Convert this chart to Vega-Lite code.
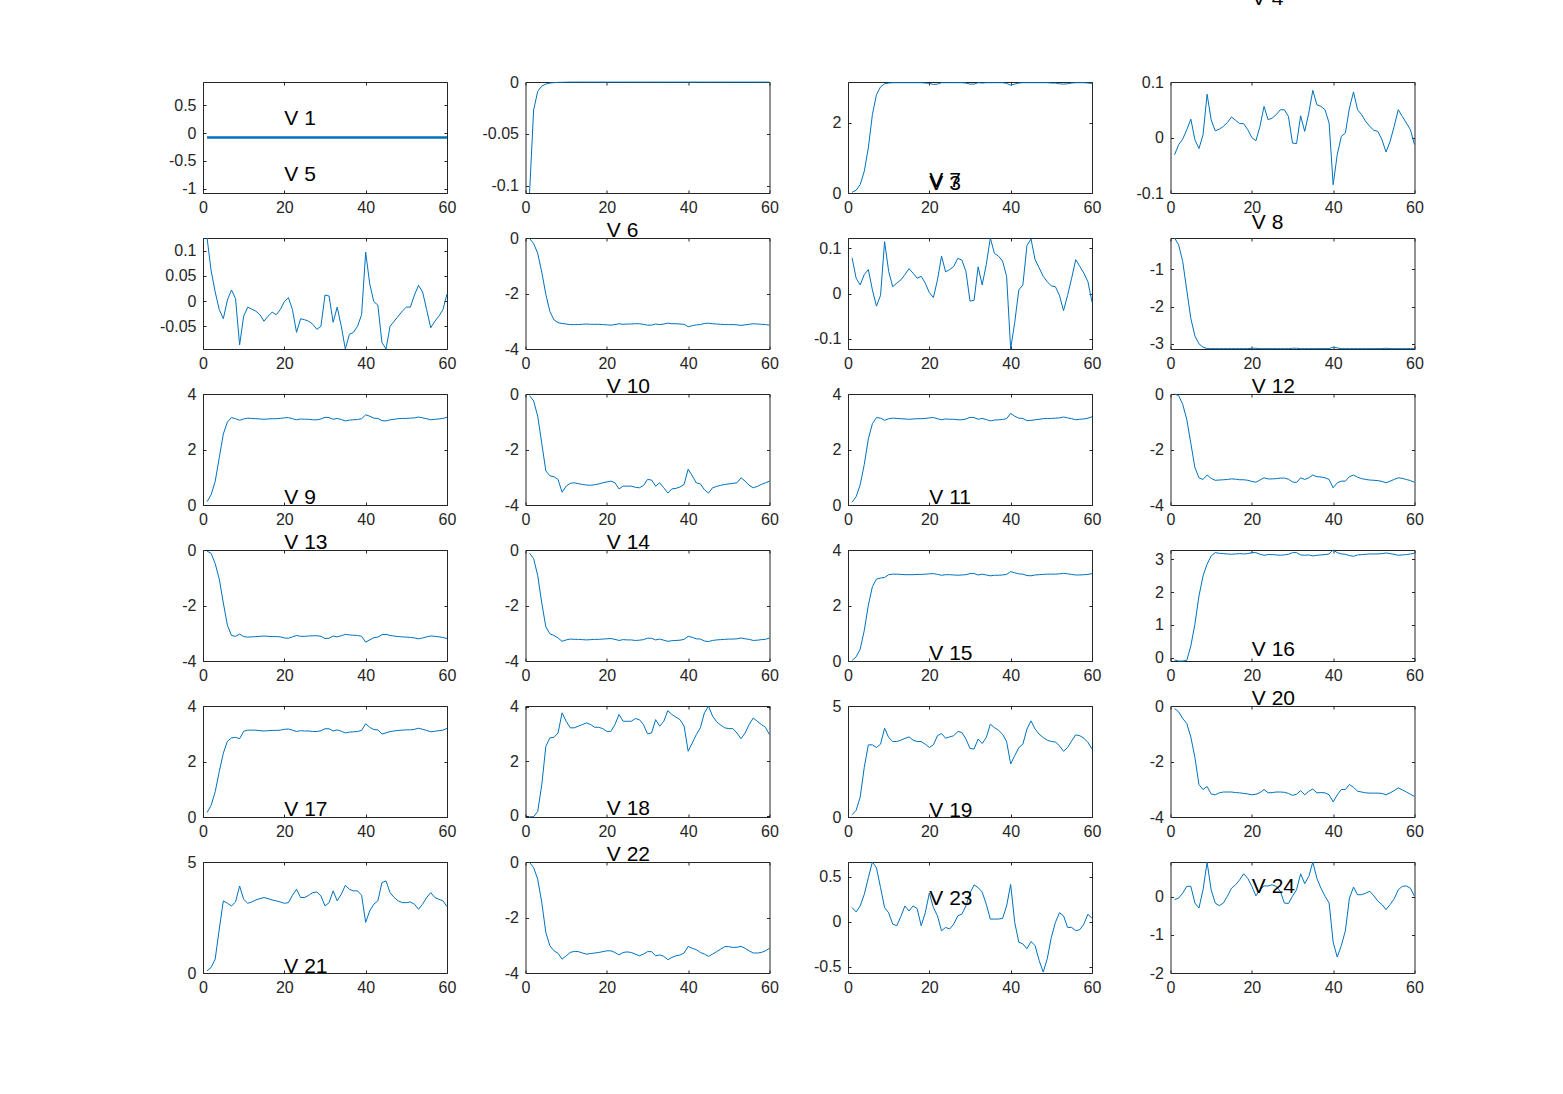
{
"$schema": "https://vega.github.io/schema/vega-lite/v6.json",
"background": "white",
"padding": {"left": 159, "top": -13, "right": 5, "bottom": 5},
"columns": 4,
"spacing": {"row": 45, "column": 78.5},
"bounds": "flush",
"config": {
 "view": {"stroke": "#262626", "strokeWidth": 1},
 "axis": {"grid": false, "domain": false, "tickSize": -3, "tickColor": "#262626", "tickWidth": 1, "labelFont": "Liberation Sans", "labelFontSize": 16, "labelColor": "#262626", "labelFlush": false, "labelOverlap": false, "labelExpr": "'' + datum.value"},
 "axisX": {"labelPadding": 9},
 "axisY": {"labelPadding": 10},
 "line": {"color": "#0072BD", "strokeWidth": 1},
 "text": {"align": "left", "baseline": "middle", "font": "Liberation Sans", "fontSize": 21, "color": "black"}
},
"datasets": {
"d1": [{"x":1,"y":-0.08},{"x":2,"y":-0.08},{"x":3,"y":-0.08},{"x":4,"y":-0.08},{"x":5,"y":-0.08},{"x":6,"y":-0.08},{"x":7,"y":-0.08},{"x":8,"y":-0.08},{"x":9,"y":-0.08},{"x":10,"y":-0.08},{"x":11,"y":-0.08},{"x":12,"y":-0.08},{"x":13,"y":-0.08},{"x":14,"y":-0.08},{"x":15,"y":-0.08},{"x":16,"y":-0.08},{"x":17,"y":-0.08},{"x":18,"y":-0.08},{"x":19,"y":-0.08},{"x":20,"y":-0.08},{"x":21,"y":-0.08},{"x":22,"y":-0.08},{"x":23,"y":-0.08},{"x":24,"y":-0.08},{"x":25,"y":-0.08},{"x":26,"y":-0.08},{"x":27,"y":-0.08},{"x":28,"y":-0.08},{"x":29,"y":-0.08},{"x":30,"y":-0.08},{"x":31,"y":-0.08},{"x":32,"y":-0.08},{"x":33,"y":-0.08},{"x":34,"y":-0.08},{"x":35,"y":-0.08},{"x":36,"y":-0.08},{"x":37,"y":-0.08},{"x":38,"y":-0.08},{"x":39,"y":-0.08},{"x":40,"y":-0.08},{"x":41,"y":-0.08},{"x":42,"y":-0.08},{"x":43,"y":-0.08},{"x":44,"y":-0.08},{"x":45,"y":-0.08},{"x":46,"y":-0.08},{"x":47,"y":-0.08},{"x":48,"y":-0.08},{"x":49,"y":-0.08},{"x":50,"y":-0.08},{"x":51,"y":-0.08},{"x":52,"y":-0.08},{"x":53,"y":-0.08},{"x":54,"y":-0.08},{"x":55,"y":-0.08},{"x":56,"y":-0.08},{"x":57,"y":-0.08},{"x":58,"y":-0.08},{"x":59,"y":-0.08},{"x":60,"y":-0.08}],
"d2": [{"x":1,"y":-0.107},{"x":2,"y":-0.027},{"x":3,"y":-0.009},{"x":4,"y":-0.004},{"x":5,"y":-0.002},{"x":6,"y":-0.001},{"x":7,"y":-0.0006},{"x":8,"y":-0.0004},{"x":9,"y":-0.0003},{"x":10,"y":-0.0002},{"x":11,"y":-0.0001},{"x":12,"y":-0.0001},{"x":13,"y":-0.0001},{"x":14,"y":-0.0001},{"x":15,"y":-0.0001},{"x":16,"y":-0.0001},{"x":17,"y":-0.0001},{"x":18,"y":-0.0001},{"x":19,"y":-0.0001},{"x":20,"y":-0.0001},{"x":21,"y":-0.0001},{"x":22,"y":-0.0001},{"x":23,"y":-0.0001},{"x":24,"y":-0.0001},{"x":25,"y":-0.0001},{"x":26,"y":-0.0001},{"x":27,"y":-0.0001},{"x":28,"y":-0.0001},{"x":29,"y":-0.0001},{"x":30,"y":-0.0001},{"x":31,"y":-0.0001},{"x":32,"y":-0.0001},{"x":33,"y":-0.0001},{"x":34,"y":-0.0001},{"x":35,"y":-0.0001},{"x":36,"y":-0.0001},{"x":37,"y":-0.0001},{"x":38,"y":-0.0001},{"x":39,"y":-0.0001},{"x":40,"y":-0.0001},{"x":41,"y":-0.0001},{"x":42,"y":-0.0001},{"x":43,"y":-0.0001},{"x":44,"y":-0.0001},{"x":45,"y":-0.0001},{"x":46,"y":-0.0001},{"x":47,"y":-0.0001},{"x":48,"y":-0.0001},{"x":49,"y":-0.0001},{"x":50,"y":-0.0001},{"x":51,"y":-0.0001},{"x":52,"y":-0.0001},{"x":53,"y":-0.0001},{"x":54,"y":-0.0001},{"x":55,"y":-0.0001},{"x":56,"y":-0.0001},{"x":57,"y":-0.0001},{"x":58,"y":-0.0001},{"x":59,"y":-0.0001},{"x":60,"y":-0.0001}],
"d3": [{"x":1,"y":0.02},{"x":2,"y":0.08},{"x":3,"y":0.24},{"x":4,"y":0.62},{"x":5,"y":1.29},{"x":6,"y":2.24},{"x":7,"y":2.81},{"x":8,"y":3.03},{"x":9,"y":3.12},{"x":10,"y":3.14},{"x":11,"y":3.15},{"x":12,"y":3.15},{"x":13,"y":3.15},{"x":14,"y":3.15},{"x":15,"y":3.15},{"x":16,"y":3.15},{"x":17,"y":3.15},{"x":18,"y":3.15},{"x":19,"y":3.14},{"x":20,"y":3.13},{"x":21,"y":3.10},{"x":22,"y":3.11},{"x":23,"y":3.15},{"x":24,"y":3.15},{"x":25,"y":3.15},{"x":26,"y":3.15},{"x":27,"y":3.15},{"x":28,"y":3.15},{"x":29,"y":3.14},{"x":30,"y":3.11},{"x":31,"y":3.11},{"x":32,"y":3.15},{"x":33,"y":3.14},{"x":34,"y":3.15},{"x":35,"y":3.15},{"x":36,"y":3.15},{"x":37,"y":3.15},{"x":38,"y":3.15},{"x":39,"y":3.13},{"x":40,"y":3.08},{"x":41,"y":3.11},{"x":42,"y":3.14},{"x":43,"y":3.15},{"x":44,"y":3.15},{"x":45,"y":3.15},{"x":46,"y":3.15},{"x":47,"y":3.15},{"x":48,"y":3.15},{"x":49,"y":3.15},{"x":50,"y":3.14},{"x":51,"y":3.14},{"x":52,"y":3.12},{"x":53,"y":3.11},{"x":54,"y":3.12},{"x":55,"y":3.14},{"x":56,"y":3.15},{"x":57,"y":3.15},{"x":58,"y":3.15},{"x":59,"y":3.14},{"x":60,"y":3.13}],
"d4": [{"x":1,"y":-0.031},{"x":2,"y":-0.013},{"x":3,"y":-0.003},{"x":4,"y":0.014},{"x":5,"y":0.033},{"x":6,"y":-0.004},{"x":7,"y":-0.02},{"x":8,"y":0.005},{"x":9,"y":0.078},{"x":10,"y":0.032},{"x":11,"y":0.012},{"x":12,"y":0.015},{"x":13,"y":0.02},{"x":14,"y":0.027},{"x":15,"y":0.037},{"x":16,"y":0.031},{"x":17,"y":0.025},{"x":18,"y":0.025},{"x":19,"y":0.014},{"x":20,"y":0.0},{"x":21,"y":-0.006},{"x":22,"y":0.02},{"x":23,"y":0.056},{"x":24,"y":0.032},{"x":25,"y":0.035},{"x":26,"y":0.041},{"x":27,"y":0.05},{"x":28,"y":0.05},{"x":29,"y":0.038},{"x":30,"y":-0.01},{"x":31,"y":-0.011},{"x":32,"y":0.039},{"x":33,"y":0.011},{"x":34,"y":0.044},{"x":35,"y":0.085},{"x":36,"y":0.059},{"x":37,"y":0.056},{"x":38,"y":0.05},{"x":39,"y":0.026},{"x":40,"y":-0.085},{"x":41,"y":-0.031},{"x":42,"y":0.002},{"x":43,"y":0.008},{"x":44,"y":0.053},{"x":45,"y":0.082},{"x":46,"y":0.05},{"x":47,"y":0.041},{"x":48,"y":0.029},{"x":49,"y":0.02},{"x":50,"y":0.013},{"x":51,"y":0.011},{"x":52,"y":-0.004},{"x":53,"y":-0.026},{"x":54,"y":-0.007},{"x":55,"y":0.02},{"x":56,"y":0.05},{"x":57,"y":0.038},{"x":58,"y":0.026},{"x":59,"y":0.014},{"x":60,"y":-0.013}],
"d5": [{"x":1,"y":0.125},{"x":2,"y":0.06},{"x":3,"y":0.018},{"x":4,"y":-0.017},{"x":5,"y":-0.035},{"x":6,"y":0.002},{"x":7,"y":0.022},{"x":8,"y":0.005},{"x":9,"y":-0.087},{"x":10,"y":-0.03},{"x":11,"y":-0.012},{"x":12,"y":-0.016},{"x":13,"y":-0.02},{"x":14,"y":-0.027},{"x":15,"y":-0.04},{"x":16,"y":-0.03},{"x":17,"y":-0.022},{"x":18,"y":-0.027},{"x":19,"y":-0.017},{"x":20,"y":-0.001},{"x":21,"y":0.007},{"x":22,"y":-0.017},{"x":23,"y":-0.062},{"x":24,"y":-0.035},{"x":25,"y":-0.037},{"x":26,"y":-0.04},{"x":27,"y":-0.046},{"x":28,"y":-0.056},{"x":29,"y":-0.05},{"x":30,"y":0.012},{"x":31,"y":0.01},{"x":32,"y":-0.042},{"x":33,"y":-0.012},{"x":34,"y":-0.05},{"x":35,"y":-0.095},{"x":36,"y":-0.066},{"x":37,"y":-0.062},{"x":38,"y":-0.05},{"x":39,"y":-0.027},{"x":40,"y":0.097},{"x":41,"y":0.034},{"x":42,"y":-0.001},{"x":43,"y":-0.008},{"x":44,"y":-0.082},{"x":45,"y":-0.095},{"x":46,"y":-0.05},{"x":47,"y":-0.04},{"x":48,"y":-0.03},{"x":49,"y":-0.02},{"x":50,"y":-0.012},{"x":51,"y":-0.012},{"x":52,"y":0.012},{"x":53,"y":0.031},{"x":54,"y":0.018},{"x":55,"y":-0.017},{"x":56,"y":-0.053},{"x":57,"y":-0.04},{"x":58,"y":-0.03},{"x":59,"y":-0.017},{"x":60,"y":0.014}],
"d6": [{"x":1,"y":-0.02},{"x":2,"y":-0.2},{"x":3,"y":-0.55},{"x":4,"y":-1.23},{"x":5,"y":-2.03},{"x":6,"y":-2.65},{"x":7,"y":-2.95},{"x":8,"y":-3.05},{"x":9,"y":-3.08},{"x":10,"y":-3.1},{"x":11,"y":-3.12},{"x":12,"y":-3.12},{"x":13,"y":-3.12},{"x":14,"y":-3.11},{"x":15,"y":-3.10},{"x":16,"y":-3.11},{"x":17,"y":-3.11},{"x":18,"y":-3.11},{"x":19,"y":-3.12},{"x":20,"y":-3.13},{"x":21,"y":-3.14},{"x":22,"y":-3.12},{"x":23,"y":-3.09},{"x":24,"y":-3.11},{"x":25,"y":-3.10},{"x":26,"y":-3.10},{"x":27,"y":-3.09},{"x":28,"y":-3.09},{"x":29,"y":-3.11},{"x":30,"y":-3.14},{"x":31,"y":-3.14},{"x":32,"y":-3.10},{"x":33,"y":-3.12},{"x":34,"y":-3.10},{"x":35,"y":-3.07},{"x":36,"y":-3.09},{"x":37,"y":-3.09},{"x":38,"y":-3.10},{"x":39,"y":-3.11},{"x":40,"y":-3.2},{"x":41,"y":-3.16},{"x":42,"y":-3.13},{"x":43,"y":-3.12},{"x":44,"y":-3.08},{"x":45,"y":-3.07},{"x":46,"y":-3.09},{"x":47,"y":-3.10},{"x":48,"y":-3.11},{"x":49,"y":-3.12},{"x":50,"y":-3.12},{"x":51,"y":-3.12},{"x":52,"y":-3.13},{"x":53,"y":-3.15},{"x":54,"y":-3.13},{"x":55,"y":-3.11},{"x":56,"y":-3.09},{"x":57,"y":-3.10},{"x":58,"y":-3.11},{"x":59,"y":-3.12},{"x":60,"y":-3.14}],
"d7": [{"x":1,"y":0.079},{"x":2,"y":0.034},{"x":3,"y":0.019},{"x":4,"y":0.042},{"x":5,"y":0.053},{"x":6,"y":0.008},{"x":7,"y":-0.028},{"x":8,"y":-0.004},{"x":9,"y":0.115},{"x":10,"y":0.049},{"x":11,"y":0.015},{"x":12,"y":0.023},{"x":13,"y":0.03},{"x":14,"y":0.042},{"x":15,"y":0.055},{"x":16,"y":0.045},{"x":17,"y":0.034},{"x":18,"y":0.038},{"x":19,"y":0.023},{"x":20,"y":0.002},{"x":21,"y":-0.009},{"x":22,"y":0.03},{"x":23,"y":0.083},{"x":24,"y":0.048},{"x":25,"y":0.053},{"x":26,"y":0.06},{"x":27,"y":0.078},{"x":28,"y":0.074},{"x":29,"y":0.049},{"x":30,"y":-0.017},{"x":31,"y":-0.015},{"x":32,"y":0.059},{"x":33,"y":0.019},{"x":34,"y":0.064},{"x":35,"y":0.123},{"x":36,"y":0.089},{"x":37,"y":0.083},{"x":38,"y":0.072},{"x":39,"y":0.038},{"x":40,"y":-0.123},{"x":41,"y":-0.064},{"x":42,"y":0.008},{"x":43,"y":0.019},{"x":44,"y":0.106},{"x":45,"y":0.121},{"x":46,"y":0.075},{"x":47,"y":0.057},{"x":48,"y":0.038},{"x":49,"y":0.026},{"x":50,"y":0.017},{"x":51,"y":0.015},{"x":52,"y":-0.004},{"x":53,"y":-0.038},{"x":54,"y":-0.004},{"x":55,"y":0.034},{"x":56,"y":0.075},{"x":57,"y":0.06},{"x":58,"y":0.045},{"x":59,"y":0.026},{"x":60,"y":-0.019}],
"d8": [{"x":1,"y":-0.16},{"x":2,"y":-0.34},{"x":3,"y":-0.79},{"x":4,"y":-1.56},{"x":5,"y":-2.32},{"x":6,"y":-2.79},{"x":7,"y":-3.0},{"x":8,"y":-3.09},{"x":9,"y":-3.13},{"x":10,"y":-3.13},{"x":11,"y":-3.13},{"x":12,"y":-3.13},{"x":13,"y":-3.13},{"x":14,"y":-3.13},{"x":15,"y":-3.13},{"x":16,"y":-3.13},{"x":17,"y":-3.13},{"x":18,"y":-3.13},{"x":19,"y":-3.13},{"x":20,"y":-3.12},{"x":21,"y":-3.12},{"x":22,"y":-3.13},{"x":23,"y":-3.13},{"x":24,"y":-3.13},{"x":25,"y":-3.13},{"x":26,"y":-3.13},{"x":27,"y":-3.13},{"x":28,"y":-3.13},{"x":29,"y":-3.13},{"x":30,"y":-3.12},{"x":31,"y":-3.12},{"x":32,"y":-3.13},{"x":33,"y":-3.13},{"x":34,"y":-3.13},{"x":35,"y":-3.13},{"x":36,"y":-3.13},{"x":37,"y":-3.13},{"x":38,"y":-3.13},{"x":39,"y":-3.13},{"x":40,"y":-3.09},{"x":41,"y":-3.11},{"x":42,"y":-3.13},{"x":43,"y":-3.13},{"x":44,"y":-3.13},{"x":45,"y":-3.13},{"x":46,"y":-3.13},{"x":47,"y":-3.13},{"x":48,"y":-3.13},{"x":49,"y":-3.13},{"x":50,"y":-3.13},{"x":51,"y":-3.13},{"x":52,"y":-3.13},{"x":53,"y":-3.12},{"x":54,"y":-3.13},{"x":55,"y":-3.13},{"x":56,"y":-3.13},{"x":57,"y":-3.13},{"x":58,"y":-3.13},{"x":59,"y":-3.13},{"x":60,"y":-3.13}],
"d9": [{"x":1,"y":0.12},{"x":2,"y":0.37},{"x":3,"y":0.85},{"x":4,"y":1.71},{"x":5,"y":2.56},{"x":6,"y":2.99},{"x":7,"y":3.15},{"x":8,"y":3.11},{"x":9,"y":3.05},{"x":10,"y":3.10},{"x":11,"y":3.13},{"x":12,"y":3.12},{"x":13,"y":3.11},{"x":14,"y":3.10},{"x":15,"y":3.09},{"x":16,"y":3.10},{"x":17,"y":3.11},{"x":18,"y":3.11},{"x":19,"y":3.12},{"x":20,"y":3.14},{"x":21,"y":3.15},{"x":22,"y":3.11},{"x":23,"y":3.07},{"x":24,"y":3.10},{"x":25,"y":3.09},{"x":26,"y":3.09},{"x":27,"y":3.07},{"x":28,"y":3.07},{"x":29,"y":3.10},{"x":30,"y":3.16},{"x":31,"y":3.15},{"x":32,"y":3.09},{"x":33,"y":3.12},{"x":34,"y":3.08},{"x":35,"y":3.03},{"x":36,"y":3.06},{"x":37,"y":3.07},{"x":38,"y":3.08},{"x":39,"y":3.11},{"x":40,"y":3.25},{"x":41,"y":3.20},{"x":42,"y":3.13},{"x":43,"y":3.12},{"x":44,"y":3.04},{"x":45,"y":3.03},{"x":46,"y":3.07},{"x":47,"y":3.09},{"x":48,"y":3.11},{"x":49,"y":3.12},{"x":50,"y":3.12},{"x":51,"y":3.13},{"x":52,"y":3.14},{"x":53,"y":3.17},{"x":54,"y":3.14},{"x":55,"y":3.11},{"x":56,"y":3.07},{"x":57,"y":3.09},{"x":58,"y":3.10},{"x":59,"y":3.12},{"x":60,"y":3.16}],
"d10": [{"x":1,"y":-0.06},{"x":2,"y":-0.25},{"x":3,"y":-0.8},{"x":4,"y":-1.78},{"x":5,"y":-2.77},{"x":6,"y":-2.95},{"x":7,"y":-2.98},{"x":8,"y":-3.08},{"x":9,"y":-3.54},{"x":10,"y":-3.32},{"x":11,"y":-3.22},{"x":12,"y":-3.2},{"x":13,"y":-3.23},{"x":14,"y":-3.26},{"x":15,"y":-3.28},{"x":16,"y":-3.29},{"x":17,"y":-3.27},{"x":18,"y":-3.24},{"x":19,"y":-3.2},{"x":20,"y":-3.17},{"x":21,"y":-3.14},{"x":22,"y":-3.2},{"x":23,"y":-3.42},{"x":24,"y":-3.32},{"x":25,"y":-3.32},{"x":26,"y":-3.32},{"x":27,"y":-3.36},{"x":28,"y":-3.38},{"x":29,"y":-3.3},{"x":30,"y":-3.08},{"x":31,"y":-3.1},{"x":32,"y":-3.32},{"x":33,"y":-3.2},{"x":34,"y":-3.38},{"x":35,"y":-3.57},{"x":36,"y":-3.42},{"x":37,"y":-3.4},{"x":38,"y":-3.35},{"x":39,"y":-3.26},{"x":40,"y":-2.71},{"x":41,"y":-2.95},{"x":42,"y":-3.2},{"x":43,"y":-3.24},{"x":44,"y":-3.45},{"x":45,"y":-3.57},{"x":46,"y":-3.38},{"x":47,"y":-3.33},{"x":48,"y":-3.29},{"x":49,"y":-3.26},{"x":50,"y":-3.24},{"x":51,"y":-3.22},{"x":52,"y":-3.2},{"x":53,"y":-3.02},{"x":54,"y":-3.14},{"x":55,"y":-3.29},{"x":56,"y":-3.38},{"x":57,"y":-3.33},{"x":58,"y":-3.26},{"x":59,"y":-3.2},{"x":60,"y":-3.14}],
"d11": [{"x":1,"y":0.10},{"x":2,"y":0.30},{"x":3,"y":0.73},{"x":4,"y":1.46},{"x":5,"y":2.38},{"x":6,"y":2.93},{"x":7,"y":3.15},{"x":8,"y":3.13},{"x":9,"y":3.05},{"x":10,"y":3.11},{"x":11,"y":3.13},{"x":12,"y":3.12},{"x":13,"y":3.11},{"x":14,"y":3.10},{"x":15,"y":3.09},{"x":16,"y":3.10},{"x":17,"y":3.11},{"x":18,"y":3.11},{"x":19,"y":3.12},{"x":20,"y":3.14},{"x":21,"y":3.15},{"x":22,"y":3.11},{"x":23,"y":3.07},{"x":24,"y":3.10},{"x":25,"y":3.09},{"x":26,"y":3.09},{"x":27,"y":3.07},{"x":28,"y":3.07},{"x":29,"y":3.10},{"x":30,"y":3.16},{"x":31,"y":3.15},{"x":32,"y":3.09},{"x":33,"y":3.12},{"x":34,"y":3.08},{"x":35,"y":3.03},{"x":36,"y":3.06},{"x":37,"y":3.07},{"x":38,"y":3.08},{"x":39,"y":3.11},{"x":40,"y":3.30},{"x":41,"y":3.20},{"x":42,"y":3.13},{"x":43,"y":3.12},{"x":44,"y":3.04},{"x":45,"y":3.05},{"x":46,"y":3.07},{"x":47,"y":3.09},{"x":48,"y":3.11},{"x":49,"y":3.12},{"x":50,"y":3.12},{"x":51,"y":3.13},{"x":52,"y":3.14},{"x":53,"y":3.17},{"x":54,"y":3.14},{"x":55,"y":3.11},{"x":56,"y":3.07},{"x":57,"y":3.09},{"x":58,"y":3.10},{"x":59,"y":3.13},{"x":60,"y":3.18}],
"d12": [{"x":1,"y":0},{"x":2,"y":-0.06},{"x":3,"y":-0.37},{"x":4,"y":-0.92},{"x":5,"y":-1.78},{"x":6,"y":-2.65},{"x":7,"y":-3.02},{"x":8,"y":-3.08},{"x":9,"y":-2.92},{"x":10,"y":-3.04},{"x":11,"y":-3.11},{"x":12,"y":-3.1},{"x":13,"y":-3.09},{"x":14,"y":-3.08},{"x":15,"y":-3.06},{"x":16,"y":-3.07},{"x":17,"y":-3.09},{"x":18,"y":-3.09},{"x":19,"y":-3.11},{"x":20,"y":-3.15},{"x":21,"y":-3.18},{"x":22,"y":-3.1},{"x":23,"y":-3.02},{"x":24,"y":-3.06},{"x":25,"y":-3.06},{"x":26,"y":-3.05},{"x":27,"y":-3.03},{"x":28,"y":-3.03},{"x":29,"y":-3.07},{"x":30,"y":-3.17},{"x":31,"y":-3.19},{"x":32,"y":-3.02},{"x":33,"y":-3.08},{"x":34,"y":-3.02},{"x":35,"y":-2.92},{"x":36,"y":-2.98},{"x":37,"y":-2.99},{"x":38,"y":-3.02},{"x":39,"y":-3.08},{"x":40,"y":-3.38},{"x":41,"y":-3.2},{"x":42,"y":-3.14},{"x":43,"y":-3.14},{"x":44,"y":-2.98},{"x":45,"y":-2.92},{"x":46,"y":-3.0},{"x":47,"y":-3.05},{"x":48,"y":-3.08},{"x":49,"y":-3.1},{"x":50,"y":-3.11},{"x":51,"y":-3.12},{"x":52,"y":-3.15},{"x":53,"y":-3.2},{"x":54,"y":-3.14},{"x":55,"y":-3.08},{"x":56,"y":-3.02},{"x":57,"y":-3.04},{"x":58,"y":-3.08},{"x":59,"y":-3.12},{"x":60,"y":-3.18}],
"d13": [{"x":1,"y":-0.04},{"x":2,"y":-0.12},{"x":3,"y":-0.49},{"x":4,"y":-1.05},{"x":5,"y":-1.91},{"x":6,"y":-2.71},{"x":7,"y":-3.08},{"x":8,"y":-3.11},{"x":9,"y":-3.03},{"x":10,"y":-3.12},{"x":11,"y":-3.14},{"x":12,"y":-3.13},{"x":13,"y":-3.12},{"x":14,"y":-3.11},{"x":15,"y":-3.1},{"x":16,"y":-3.11},{"x":17,"y":-3.12},{"x":18,"y":-3.12},{"x":19,"y":-3.13},{"x":20,"y":-3.17},{"x":21,"y":-3.18},{"x":22,"y":-3.13},{"x":23,"y":-3.08},{"x":24,"y":-3.11},{"x":25,"y":-3.11},{"x":26,"y":-3.1},{"x":27,"y":-3.09},{"x":28,"y":-3.09},{"x":29,"y":-3.11},{"x":30,"y":-3.19},{"x":31,"y":-3.18},{"x":32,"y":-3.1},{"x":33,"y":-3.13},{"x":34,"y":-3.09},{"x":35,"y":-3.04},{"x":36,"y":-3.06},{"x":37,"y":-3.07},{"x":38,"y":-3.08},{"x":39,"y":-3.11},{"x":40,"y":-3.32},{"x":41,"y":-3.24},{"x":42,"y":-3.16},{"x":43,"y":-3.14},{"x":44,"y":-3.05},{"x":45,"y":-3.04},{"x":46,"y":-3.08},{"x":47,"y":-3.1},{"x":48,"y":-3.12},{"x":49,"y":-3.13},{"x":50,"y":-3.14},{"x":51,"y":-3.15},{"x":52,"y":-3.17},{"x":53,"y":-3.2},{"x":54,"y":-3.17},{"x":55,"y":-3.13},{"x":56,"y":-3.1},{"x":57,"y":-3.11},{"x":58,"y":-3.13},{"x":59,"y":-3.15},{"x":60,"y":-3.19}],
"d14": [{"x":1,"y":-0.12},{"x":2,"y":-0.31},{"x":3,"y":-0.92},{"x":4,"y":-1.91},{"x":5,"y":-2.77},{"x":6,"y":-3.02},{"x":7,"y":-3.08},{"x":8,"y":-3.17},{"x":9,"y":-3.29},{"x":10,"y":-3.24},{"x":11,"y":-3.21},{"x":12,"y":-3.22},{"x":13,"y":-3.22},{"x":14,"y":-3.23},{"x":15,"y":-3.24},{"x":16,"y":-3.23},{"x":17,"y":-3.22},{"x":18,"y":-3.22},{"x":19,"y":-3.21},{"x":20,"y":-3.2},{"x":21,"y":-3.19},{"x":22,"y":-3.22},{"x":23,"y":-3.26},{"x":24,"y":-3.23},{"x":25,"y":-3.24},{"x":26,"y":-3.24},{"x":27,"y":-3.26},{"x":28,"y":-3.25},{"x":29,"y":-3.23},{"x":30,"y":-3.18},{"x":31,"y":-3.18},{"x":32,"y":-3.24},{"x":33,"y":-3.21},{"x":34,"y":-3.25},{"x":35,"y":-3.29},{"x":36,"y":-3.27},{"x":37,"y":-3.26},{"x":38,"y":-3.25},{"x":39,"y":-3.22},{"x":40,"y":-3.11},{"x":41,"y":-3.15},{"x":42,"y":-3.2},{"x":43,"y":-3.21},{"x":44,"y":-3.28},{"x":45,"y":-3.3},{"x":46,"y":-3.26},{"x":47,"y":-3.24},{"x":48,"y":-3.23},{"x":49,"y":-3.22},{"x":50,"y":-3.21},{"x":51,"y":-3.21},{"x":52,"y":-3.2},{"x":53,"y":-3.17},{"x":54,"y":-3.2},{"x":55,"y":-3.22},{"x":56,"y":-3.26},{"x":57,"y":-3.25},{"x":58,"y":-3.23},{"x":59,"y":-3.22},{"x":60,"y":-3.17}],
"d15": [{"x":1,"y":0.02},{"x":2,"y":0.15},{"x":3,"y":0.43},{"x":4,"y":1.1},{"x":5,"y":2.01},{"x":6,"y":2.68},{"x":7,"y":2.95},{"x":8,"y":2.99},{"x":9,"y":3.01},{"x":10,"y":3.11},{"x":11,"y":3.13},{"x":12,"y":3.13},{"x":13,"y":3.12},{"x":14,"y":3.11},{"x":15,"y":3.11},{"x":16,"y":3.11},{"x":17,"y":3.12},{"x":18,"y":3.12},{"x":19,"y":3.13},{"x":20,"y":3.14},{"x":21,"y":3.15},{"x":22,"y":3.12},{"x":23,"y":3.09},{"x":24,"y":3.11},{"x":25,"y":3.11},{"x":26,"y":3.10},{"x":27,"y":3.09},{"x":28,"y":3.10},{"x":29,"y":3.11},{"x":30,"y":3.15},{"x":31,"y":3.15},{"x":32,"y":3.10},{"x":33,"y":3.13},{"x":34,"y":3.10},{"x":35,"y":3.07},{"x":36,"y":3.09},{"x":37,"y":3.09},{"x":38,"y":3.10},{"x":39,"y":3.12},{"x":40,"y":3.22},{"x":41,"y":3.18},{"x":42,"y":3.14},{"x":43,"y":3.13},{"x":44,"y":3.08},{"x":45,"y":3.07},{"x":46,"y":3.10},{"x":47,"y":3.11},{"x":48,"y":3.12},{"x":49,"y":3.13},{"x":50,"y":3.13},{"x":51,"y":3.13},{"x":52,"y":3.14},{"x":53,"y":3.16},{"x":54,"y":3.14},{"x":55,"y":3.12},{"x":56,"y":3.10},{"x":57,"y":3.10},{"x":58,"y":3.11},{"x":59,"y":3.12},{"x":60,"y":3.15}],
"d16": [{"x":1,"y":-0.07},{"x":2,"y":-0.1},{"x":3,"y":-0.1},{"x":4,"y":-0.08},{"x":5,"y":0.36},{"x":6,"y":1.02},{"x":7,"y":1.88},{"x":8,"y":2.49},{"x":9,"y":2.85},{"x":10,"y":3.1},{"x":11,"y":3.2},{"x":12,"y":3.18},{"x":13,"y":3.17},{"x":14,"y":3.16},{"x":15,"y":3.15},{"x":16,"y":3.16},{"x":17,"y":3.17},{"x":18,"y":3.16},{"x":19,"y":3.17},{"x":20,"y":3.2},{"x":21,"y":3.2},{"x":22,"y":3.15},{"x":23,"y":3.12},{"x":24,"y":3.14},{"x":25,"y":3.14},{"x":26,"y":3.13},{"x":27,"y":3.12},{"x":28,"y":3.13},{"x":29,"y":3.15},{"x":30,"y":3.2},{"x":31,"y":3.2},{"x":32,"y":3.13},{"x":33,"y":3.12},{"x":34,"y":3.13},{"x":35,"y":3.1},{"x":36,"y":3.12},{"x":37,"y":3.13},{"x":38,"y":3.14},{"x":39,"y":3.16},{"x":40,"y":3.28},{"x":41,"y":3.2},{"x":42,"y":3.16},{"x":43,"y":3.15},{"x":44,"y":3.11},{"x":45,"y":3.09},{"x":46,"y":3.13},{"x":47,"y":3.14},{"x":48,"y":3.15},{"x":49,"y":3.16},{"x":50,"y":3.16},{"x":51,"y":3.16},{"x":52,"y":3.17},{"x":53,"y":3.19},{"x":54,"y":3.17},{"x":55,"y":3.15},{"x":56,"y":3.12},{"x":57,"y":3.13},{"x":58,"y":3.14},{"x":59,"y":3.16},{"x":60,"y":3.18}],
"d17": [{"x":1,"y":0.16},{"x":2,"y":0.42},{"x":3,"y":0.91},{"x":4,"y":1.64},{"x":5,"y":2.3},{"x":6,"y":2.73},{"x":7,"y":2.85},{"x":8,"y":2.87},{"x":9,"y":2.82},{"x":10,"y":3.09},{"x":11,"y":3.13},{"x":12,"y":3.13},{"x":13,"y":3.13},{"x":14,"y":3.11},{"x":15,"y":3.10},{"x":16,"y":3.11},{"x":17,"y":3.12},{"x":18,"y":3.12},{"x":19,"y":3.13},{"x":20,"y":3.16},{"x":21,"y":3.17},{"x":22,"y":3.13},{"x":23,"y":3.08},{"x":24,"y":3.11},{"x":25,"y":3.10},{"x":26,"y":3.10},{"x":27,"y":3.08},{"x":28,"y":3.08},{"x":29,"y":3.11},{"x":30,"y":3.18},{"x":31,"y":3.18},{"x":32,"y":3.10},{"x":33,"y":3.14},{"x":34,"y":3.09},{"x":35,"y":3.03},{"x":36,"y":3.06},{"x":37,"y":3.07},{"x":38,"y":3.08},{"x":39,"y":3.12},{"x":40,"y":3.36},{"x":41,"y":3.23},{"x":42,"y":3.15},{"x":43,"y":3.14},{"x":44,"y":2.99},{"x":45,"y":3.03},{"x":46,"y":3.08},{"x":47,"y":3.10},{"x":48,"y":3.12},{"x":49,"y":3.13},{"x":50,"y":3.14},{"x":51,"y":3.14},{"x":52,"y":3.16},{"x":53,"y":3.20},{"x":54,"y":3.16},{"x":55,"y":3.12},{"x":56,"y":3.07},{"x":57,"y":3.09},{"x":58,"y":3.11},{"x":59,"y":3.13},{"x":60,"y":3.19}],
"d18": [{"x":1,"y":-0.03},{"x":2,"y":-0.03},{"x":3,"y":0.16},{"x":4,"y":1.14},{"x":5,"y":2.55},{"x":6,"y":2.86},{"x":7,"y":2.88},{"x":8,"y":3.04},{"x":9,"y":3.78},{"x":10,"y":3.47},{"x":11,"y":3.23},{"x":12,"y":3.23},{"x":13,"y":3.29},{"x":14,"y":3.35},{"x":15,"y":3.41},{"x":16,"y":3.35},{"x":17,"y":3.25},{"x":18,"y":3.25},{"x":19,"y":3.2},{"x":20,"y":3.1},{"x":21,"y":3.1},{"x":22,"y":3.35},{"x":23,"y":3.72},{"x":24,"y":3.47},{"x":25,"y":3.47},{"x":26,"y":3.47},{"x":27,"y":3.57},{"x":28,"y":3.53},{"x":29,"y":3.35},{"x":30,"y":3.01},{"x":31,"y":3.04},{"x":32,"y":3.53},{"x":33,"y":3.29},{"x":34,"y":3.47},{"x":35,"y":3.86},{"x":36,"y":3.72},{"x":37,"y":3.62},{"x":38,"y":3.53},{"x":39,"y":3.29},{"x":40,"y":2.37},{"x":41,"y":2.67},{"x":42,"y":2.98},{"x":43,"y":3.23},{"x":44,"y":3.78},{"x":45,"y":4.02},{"x":46,"y":3.66},{"x":47,"y":3.45},{"x":48,"y":3.33},{"x":49,"y":3.23},{"x":50,"y":3.2},{"x":51,"y":3.2},{"x":52,"y":3.04},{"x":53,"y":2.83},{"x":54,"y":3.04},{"x":55,"y":3.35},{"x":56,"y":3.59},{"x":57,"y":3.47},{"x":58,"y":3.35},{"x":59,"y":3.25},{"x":60,"y":2.98}],
"d19": [{"x":1,"y":0.1},{"x":2,"y":0.3},{"x":3,"y":0.9},{"x":4,"y":2.24},{"x":5,"y":3.25},{"x":6,"y":3.25},{"x":7,"y":3.13},{"x":8,"y":3.28},{"x":9,"y":4.0},{"x":10,"y":3.58},{"x":11,"y":3.4},{"x":12,"y":3.4},{"x":13,"y":3.46},{"x":14,"y":3.54},{"x":15,"y":3.61},{"x":16,"y":3.46},{"x":17,"y":3.4},{"x":18,"y":3.4},{"x":19,"y":3.28},{"x":20,"y":3.13},{"x":21,"y":3.25},{"x":22,"y":3.66},{"x":23,"y":3.76},{"x":24,"y":3.55},{"x":25,"y":3.61},{"x":26,"y":3.66},{"x":27,"y":3.85},{"x":28,"y":3.81},{"x":29,"y":3.51},{"x":30,"y":3.09},{"x":31,"y":3.06},{"x":32,"y":3.51},{"x":33,"y":3.31},{"x":34,"y":3.58},{"x":35,"y":4.18},{"x":36,"y":4.03},{"x":37,"y":3.91},{"x":38,"y":3.73},{"x":39,"y":3.4},{"x":40,"y":2.39},{"x":41,"y":2.76},{"x":42,"y":3.13},{"x":43,"y":3.28},{"x":44,"y":3.96},{"x":45,"y":4.33},{"x":46,"y":3.96},{"x":47,"y":3.73},{"x":48,"y":3.58},{"x":49,"y":3.46},{"x":50,"y":3.4},{"x":51,"y":3.38},{"x":52,"y":3.21},{"x":53,"y":2.96},{"x":54,"y":3.13},{"x":55,"y":3.43},{"x":56,"y":3.7},{"x":57,"y":3.66},{"x":58,"y":3.55},{"x":59,"y":3.36},{"x":60,"y":3.06}],
"d20": [{"x":1,"y":-0.09},{"x":2,"y":-0.21},{"x":3,"y":-0.45},{"x":4,"y":-0.63},{"x":5,"y":-1.12},{"x":6,"y":-1.85},{"x":7,"y":-2.83},{"x":8,"y":-3.01},{"x":9,"y":-2.9},{"x":10,"y":-3.17},{"x":11,"y":-3.2},{"x":12,"y":-3.13},{"x":13,"y":-3.1},{"x":14,"y":-3.1},{"x":15,"y":-3.1},{"x":16,"y":-3.12},{"x":17,"y":-3.13},{"x":18,"y":-3.15},{"x":19,"y":-3.17},{"x":20,"y":-3.2},{"x":21,"y":-3.18},{"x":22,"y":-3.12},{"x":23,"y":-3.01},{"x":24,"y":-3.13},{"x":25,"y":-3.12},{"x":26,"y":-3.1},{"x":27,"y":-3.1},{"x":28,"y":-3.11},{"x":29,"y":-3.15},{"x":30,"y":-3.22},{"x":31,"y":-3.18},{"x":32,"y":-3.05},{"x":33,"y":-3.2},{"x":34,"y":-3.07},{"x":35,"y":-2.99},{"x":36,"y":-3.13},{"x":37,"y":-3.12},{"x":38,"y":-3.13},{"x":39,"y":-3.2},{"x":40,"y":-3.46},{"x":41,"y":-3.2},{"x":42,"y":-3.01},{"x":43,"y":-3.01},{"x":44,"y":-2.83},{"x":45,"y":-2.93},{"x":46,"y":-3.07},{"x":47,"y":-3.1},{"x":48,"y":-3.13},{"x":49,"y":-3.14},{"x":50,"y":-3.14},{"x":51,"y":-3.14},{"x":52,"y":-3.15},{"x":53,"y":-3.2},{"x":54,"y":-3.13},{"x":55,"y":-3.05},{"x":56,"y":-2.95},{"x":57,"y":-3.02},{"x":58,"y":-3.1},{"x":59,"y":-3.18},{"x":60,"y":-3.26}],
"d21": [{"x":1,"y":0.1},{"x":2,"y":0.25},{"x":3,"y":0.63},{"x":4,"y":1.98},{"x":5,"y":3.25},{"x":6,"y":3.14},{"x":7,"y":3.02},{"x":8,"y":3.2},{"x":9,"y":3.92},{"x":10,"y":3.32},{"x":11,"y":3.14},{"x":12,"y":3.2},{"x":13,"y":3.29},{"x":14,"y":3.35},{"x":15,"y":3.4},{"x":16,"y":3.35},{"x":17,"y":3.29},{"x":18,"y":3.25},{"x":19,"y":3.2},{"x":20,"y":3.14},{"x":21,"y":3.17},{"x":22,"y":3.5},{"x":23,"y":3.77},{"x":24,"y":3.4},{"x":25,"y":3.4},{"x":26,"y":3.5},{"x":27,"y":3.62},{"x":28,"y":3.65},{"x":29,"y":3.47},{"x":30,"y":3.02},{"x":31,"y":3.17},{"x":32,"y":3.7},{"x":33,"y":3.25},{"x":34,"y":3.55},{"x":35,"y":3.95},{"x":36,"y":3.77},{"x":37,"y":3.7},{"x":38,"y":3.7},{"x":39,"y":3.5},{"x":40,"y":2.28},{"x":41,"y":2.8},{"x":42,"y":3.1},{"x":43,"y":3.25},{"x":44,"y":4.07},{"x":45,"y":4.15},{"x":46,"y":3.62},{"x":47,"y":3.4},{"x":48,"y":3.25},{"x":49,"y":3.17},{"x":50,"y":3.17},{"x":51,"y":3.2},{"x":52,"y":3.1},{"x":53,"y":2.87},{"x":54,"y":3.1},{"x":55,"y":3.4},{"x":56,"y":3.62},{"x":57,"y":3.4},{"x":58,"y":3.32},{"x":59,"y":3.25},{"x":60,"y":2.99}],
"d22": [{"x":1,"y":-0.02},{"x":2,"y":-0.2},{"x":3,"y":-0.62},{"x":4,"y":-1.46},{"x":5,"y":-2.54},{"x":6,"y":-3.02},{"x":7,"y":-3.2},{"x":8,"y":-3.29},{"x":9,"y":-3.5},{"x":10,"y":-3.38},{"x":11,"y":-3.26},{"x":12,"y":-3.22},{"x":13,"y":-3.23},{"x":14,"y":-3.28},{"x":15,"y":-3.32},{"x":16,"y":-3.3},{"x":17,"y":-3.28},{"x":18,"y":-3.26},{"x":19,"y":-3.23},{"x":20,"y":-3.2},{"x":21,"y":-3.2},{"x":22,"y":-3.26},{"x":23,"y":-3.35},{"x":24,"y":-3.26},{"x":25,"y":-3.24},{"x":26,"y":-3.26},{"x":27,"y":-3.32},{"x":28,"y":-3.38},{"x":29,"y":-3.32},{"x":30,"y":-3.23},{"x":31,"y":-3.23},{"x":32,"y":-3.38},{"x":33,"y":-3.35},{"x":34,"y":-3.4},{"x":35,"y":-3.52},{"x":36,"y":-3.44},{"x":37,"y":-3.38},{"x":38,"y":-3.35},{"x":39,"y":-3.28},{"x":40,"y":-3.04},{"x":41,"y":-3.11},{"x":42,"y":-3.16},{"x":43,"y":-3.26},{"x":44,"y":-3.32},{"x":45,"y":-3.4},{"x":46,"y":-3.32},{"x":47,"y":-3.23},{"x":48,"y":-3.14},{"x":49,"y":-3.05},{"x":50,"y":-3.05},{"x":51,"y":-3.08},{"x":52,"y":-3.07},{"x":53,"y":-3.04},{"x":54,"y":-3.11},{"x":55,"y":-3.2},{"x":56,"y":-3.28},{"x":57,"y":-3.28},{"x":58,"y":-3.26},{"x":59,"y":-3.2},{"x":60,"y":-3.11}],
"d23": [{"x":1,"y":0.158},{"x":2,"y":0.11},{"x":3,"y":0.176},{"x":4,"y":0.305},{"x":5,"y":0.49},{"x":6,"y":0.665},{"x":7,"y":0.6},{"x":8,"y":0.38},{"x":9,"y":0.158},{"x":10,"y":0.1},{"x":11,"y":-0.026},{"x":12,"y":-0.044},{"x":13,"y":0.059},{"x":14,"y":0.176},{"x":15,"y":0.12},{"x":16,"y":0.176},{"x":17,"y":0.147},{"x":18,"y":-0.044},{"x":19,"y":0.1},{"x":20,"y":0.32},{"x":21,"y":0.158},{"x":22,"y":0.066},{"x":23,"y":-0.1},{"x":24,"y":-0.063},{"x":25,"y":-0.08},{"x":26,"y":-0.026},{"x":27,"y":0.066},{"x":28,"y":0.085},{"x":29,"y":0.176},{"x":30,"y":0.32},{"x":31,"y":0.41},{"x":32,"y":0.38},{"x":33,"y":0.33},{"x":34,"y":0.195},{"x":35,"y":0.03},{"x":36,"y":0.03},{"x":37,"y":0.03},{"x":38,"y":0.037},{"x":39,"y":0.176},{"x":40,"y":0.415},{"x":41,"y":-0.007},{"x":42,"y":-0.228},{"x":43,"y":-0.246},{"x":44,"y":-0.3},{"x":45,"y":-0.22},{"x":46,"y":-0.265},{"x":47,"y":-0.43},{"x":48,"y":-0.56},{"x":49,"y":-0.41},{"x":50,"y":-0.173},{"x":51,"y":-0.007},{"x":52,"y":0.1},{"x":53,"y":0.066},{"x":54,"y":-0.063},{"x":55,"y":-0.063},{"x":56,"y":-0.1},{"x":57,"y":-0.088},{"x":58,"y":-0.026},{"x":59,"y":0.085},{"x":60,"y":0.037}],
"d24": [{"x":1,"y":-0.07},{"x":2,"y":-0.03},{"x":3,"y":0.1},{"x":4,"y":0.28},{"x":5,"y":0.28},{"x":6,"y":-0.16},{"x":7,"y":-0.29},{"x":8,"y":0.19},{"x":9,"y":0.91},{"x":10,"y":0.19},{"x":11,"y":-0.16},{"x":12,"y":-0.23},{"x":13,"y":-0.16},{"x":14,"y":0.02},{"x":15,"y":0.23},{"x":16,"y":0.32},{"x":17,"y":0.45},{"x":18,"y":0.61},{"x":19,"y":0.49},{"x":20,"y":0.28},{"x":21,"y":0.03},{"x":22,"y":0.19},{"x":23,"y":0.29},{"x":24,"y":0.29},{"x":25,"y":0.32},{"x":26,"y":0.28},{"x":27,"y":0.15},{"x":28,"y":-0.16},{"x":29,"y":-0.17},{"x":30,"y":0.02},{"x":31,"y":0.19},{"x":32,"y":0.61},{"x":33,"y":0.35},{"x":34,"y":0.54},{"x":35,"y":0.92},{"x":36,"y":0.49},{"x":37,"y":0.23},{"x":38,"y":0.02},{"x":39,"y":-0.16},{"x":40,"y":-1.19},{"x":41,"y":-1.58},{"x":42,"y":-1.28},{"x":43,"y":-0.89},{"x":44,"y":-0.03},{"x":45,"y":0.26},{"x":46,"y":0.06},{"x":47,"y":0.06},{"x":48,"y":0.1},{"x":49,"y":0.15},{"x":50,"y":0.03},{"x":51,"y":-0.11},{"x":52,"y":-0.2},{"x":53,"y":-0.33},{"x":54,"y":-0.2},{"x":55,"y":-0.05},{"x":56,"y":0.19},{"x":57,"y":0.28},{"x":58,"y":0.29},{"x":59,"y":0.23},{"x":60,"y":0.02}]
},
"concat": [
{"width":244,"height":111,"resolve":{"axis":{"x":"independent","y":"independent"}},"layer":[{"data":{"name":"d1"},"mark":{"type":"line","strokeWidth":2.5},"encoding":{"x":{"field":"x","type":"quantitative","title":null,"scale":{"domain":[0,60],"nice":false,"zero":false},"axis":{"values":[0,20,40,60]}},"y":{"field":"y","type":"quantitative","title":null,"scale":{"domain":[-1.08,0.92],"nice":false,"zero":false},"axis":{"values":[-1,-0.5,0,0.5],"labelOverlap":false}}}},{"data":{"values":[{"x":20,"y":0.25,"t":"V 1"}]},"mark":"text","encoding":{"x":{"field":"x","type":"quantitative","title":null,"axis":{"orient":"top","labels":false,"values":[0,20,40,60]}},"y":{"field":"y","type":"quantitative","title":null,"axis":{"orient":"right","labels":false,"values":[-1,-0.5,0,0.5]}},"text":{"field":"t"}}}]},
{"width":244,"height":111,"resolve":{"axis":{"x":"independent","y":"independent"}},"layer":[{"data":{"name":"d2"},"mark":"line","encoding":{"x":{"field":"x","type":"quantitative","title":null,"scale":{"domain":[0,60],"nice":false,"zero":false},"axis":{"values":[0,20,40,60]}},"y":{"field":"y","type":"quantitative","title":null,"scale":{"domain":[-0.107,0],"nice":false,"zero":false},"axis":{"values":[-0.1,-0.05,0],"labelOverlap":false}}}},{"data":{"name":"d2"},"mark":{"type":"line","opacity":0},"encoding":{"x":{"field":"x","type":"quantitative","title":null,"axis":{"orient":"top","labels":false,"values":[0,20,40,60]}},"y":{"field":"y","type":"quantitative","title":null,"axis":{"orient":"right","labels":false,"values":[-0.1,-0.05,0]}}}}]},
{"width":244,"height":111,"resolve":{"axis":{"x":"independent","y":"independent"}},"layer":[{"data":{"name":"d3"},"mark":"line","encoding":{"x":{"field":"x","type":"quantitative","title":null,"scale":{"domain":[0,60],"nice":false,"zero":false},"axis":{"values":[0,20,40,60]}},"y":{"field":"y","type":"quantitative","title":null,"scale":{"domain":[0,3.17],"nice":false,"zero":false},"axis":{"values":[0,2],"labelOverlap":false}}}},{"data":{"values":[{"x":20,"y":0.25,"t":"V 3"}]},"mark":"text","encoding":{"x":{"field":"x","type":"quantitative","title":null,"axis":{"orient":"top","labels":false,"values":[0,20,40,60]}},"y":{"field":"y","type":"quantitative","title":null,"axis":{"orient":"right","labels":false,"values":[0,2]}},"text":{"field":"t"}}}]},
{"width":244,"height":111,"resolve":{"axis":{"x":"independent","y":"independent"}},"layer":[{"data":{"name":"d4"},"mark":"line","encoding":{"x":{"field":"x","type":"quantitative","title":null,"scale":{"domain":[0,60],"nice":false,"zero":false},"axis":{"values":[0,20,40,60]}},"y":{"field":"y","type":"quantitative","title":null,"scale":{"domain":[-0.1,0.1],"nice":false,"zero":false},"axis":{"values":[-0.1,0,0.1],"labelOverlap":false}}}},{"data":{"values":[{"x":20,"y":0.25,"t":"V 4"}]},"mark":"text","encoding":{"x":{"field":"x","type":"quantitative","title":null,"axis":{"orient":"top","labels":false,"values":[0,20,40,60]}},"y":{"field":"y","type":"quantitative","title":null,"axis":{"orient":"right","labels":false,"values":[-0.1,0,0.1]}},"text":{"field":"t"}}}]},
{"width":244,"height":111,"resolve":{"axis":{"x":"independent","y":"independent"}},"layer":[{"data":{"name":"d5"},"mark":"line","encoding":{"x":{"field":"x","type":"quantitative","title":null,"scale":{"domain":[0,60],"nice":false,"zero":false},"axis":{"values":[0,20,40,60]}},"y":{"field":"y","type":"quantitative","title":null,"scale":{"domain":[-0.095,0.125],"nice":false,"zero":false},"axis":{"values":[-0.05,0,0.05,0.1],"labelOverlap":false}}}},{"data":{"values":[{"x":20,"y":0.25,"t":"V 5"}]},"mark":"text","encoding":{"x":{"field":"x","type":"quantitative","title":null,"axis":{"orient":"top","labels":false,"values":[0,20,40,60]}},"y":{"field":"y","type":"quantitative","title":null,"axis":{"orient":"right","labels":false,"values":[-0.05,0,0.05,0.1]}},"text":{"field":"t"}}}]},
{"width":244,"height":111,"resolve":{"axis":{"x":"independent","y":"independent"}},"layer":[{"data":{"name":"d6"},"mark":"line","encoding":{"x":{"field":"x","type":"quantitative","title":null,"scale":{"domain":[0,60],"nice":false,"zero":false},"axis":{"values":[0,20,40,60]}},"y":{"field":"y","type":"quantitative","title":null,"scale":{"domain":[-4,0],"nice":false,"zero":false},"axis":{"values":[-4,-2,0],"labelOverlap":false}}}},{"data":{"values":[{"x":20,"y":0.25,"t":"V 6"}]},"mark":"text","encoding":{"x":{"field":"x","type":"quantitative","title":null,"axis":{"orient":"top","labels":false,"values":[0,20,40,60]}},"y":{"field":"y","type":"quantitative","title":null,"axis":{"orient":"right","labels":false,"values":[-4,-2,0]}},"text":{"field":"t"}}}]},
{"width":244,"height":111,"resolve":{"axis":{"x":"independent","y":"independent"}},"layer":[{"data":{"name":"d7"},"mark":"line","encoding":{"x":{"field":"x","type":"quantitative","title":null,"scale":{"domain":[0,60],"nice":false,"zero":false},"axis":{"values":[0,20,40,60]}},"y":{"field":"y","type":"quantitative","title":null,"scale":{"domain":[-0.123,0.123],"nice":false,"zero":false},"axis":{"values":[-0.1,0,0.1],"labelOverlap":false}}}},{"data":{"values":[{"x":20,"y":0.25,"t":"V 7"}]},"mark":"text","encoding":{"x":{"field":"x","type":"quantitative","title":null,"axis":{"orient":"top","labels":false,"values":[0,20,40,60]}},"y":{"field":"y","type":"quantitative","title":null,"axis":{"orient":"right","labels":false,"values":[-0.1,0,0.1]}},"text":{"field":"t"}}}]},
{"width":244,"height":111,"resolve":{"axis":{"x":"independent","y":"independent"}},"layer":[{"data":{"name":"d8"},"mark":"line","encoding":{"x":{"field":"x","type":"quantitative","title":null,"scale":{"domain":[0,60],"nice":false,"zero":false},"axis":{"values":[0,20,40,60]}},"y":{"field":"y","type":"quantitative","title":null,"scale":{"domain":[-3.14,-0.16],"nice":false,"zero":false},"axis":{"values":[-3,-2,-1],"labelOverlap":false}}}},{"data":{"values":[{"x":20,"y":0.25,"t":"V 8"}]},"mark":"text","encoding":{"x":{"field":"x","type":"quantitative","title":null,"axis":{"orient":"top","labels":false,"values":[0,20,40,60]}},"y":{"field":"y","type":"quantitative","title":null,"axis":{"orient":"right","labels":false,"values":[-3,-2,-1]}},"text":{"field":"t"}}}]},
{"width":244,"height":111,"resolve":{"axis":{"x":"independent","y":"independent"}},"layer":[{"data":{"name":"d9"},"mark":"line","encoding":{"x":{"field":"x","type":"quantitative","title":null,"scale":{"domain":[0,60],"nice":false,"zero":false},"axis":{"values":[0,20,40,60]}},"y":{"field":"y","type":"quantitative","title":null,"scale":{"domain":[0,4],"nice":false,"zero":false},"axis":{"values":[0,2,4],"labelOverlap":false}}}},{"data":{"values":[{"x":20,"y":0.25,"t":"V 9"}]},"mark":"text","encoding":{"x":{"field":"x","type":"quantitative","title":null,"axis":{"orient":"top","labels":false,"values":[0,20,40,60]}},"y":{"field":"y","type":"quantitative","title":null,"axis":{"orient":"right","labels":false,"values":[0,2,4]}},"text":{"field":"t"}}}]},
{"width":244,"height":111,"resolve":{"axis":{"x":"independent","y":"independent"}},"layer":[{"data":{"name":"d10"},"mark":"line","encoding":{"x":{"field":"x","type":"quantitative","title":null,"scale":{"domain":[0,60],"nice":false,"zero":false},"axis":{"values":[0,20,40,60]}},"y":{"field":"y","type":"quantitative","title":null,"scale":{"domain":[-4,0],"nice":false,"zero":false},"axis":{"values":[-4,-2,0],"labelOverlap":false}}}},{"data":{"values":[{"x":20,"y":0.25,"t":"V 10"}]},"mark":"text","encoding":{"x":{"field":"x","type":"quantitative","title":null,"axis":{"orient":"top","labels":false,"values":[0,20,40,60]}},"y":{"field":"y","type":"quantitative","title":null,"axis":{"orient":"right","labels":false,"values":[-4,-2,0]}},"text":{"field":"t"}}}]},
{"width":244,"height":111,"resolve":{"axis":{"x":"independent","y":"independent"}},"layer":[{"data":{"name":"d11"},"mark":"line","encoding":{"x":{"field":"x","type":"quantitative","title":null,"scale":{"domain":[0,60],"nice":false,"zero":false},"axis":{"values":[0,20,40,60]}},"y":{"field":"y","type":"quantitative","title":null,"scale":{"domain":[0,4],"nice":false,"zero":false},"axis":{"values":[0,2,4],"labelOverlap":false}}}},{"data":{"values":[{"x":20,"y":0.25,"t":"V 11"}]},"mark":"text","encoding":{"x":{"field":"x","type":"quantitative","title":null,"axis":{"orient":"top","labels":false,"values":[0,20,40,60]}},"y":{"field":"y","type":"quantitative","title":null,"axis":{"orient":"right","labels":false,"values":[0,2,4]}},"text":{"field":"t"}}}]},
{"width":244,"height":111,"resolve":{"axis":{"x":"independent","y":"independent"}},"layer":[{"data":{"name":"d12"},"mark":"line","encoding":{"x":{"field":"x","type":"quantitative","title":null,"scale":{"domain":[0,60],"nice":false,"zero":false},"axis":{"values":[0,20,40,60]}},"y":{"field":"y","type":"quantitative","title":null,"scale":{"domain":[-4,0],"nice":false,"zero":false},"axis":{"values":[-4,-2,0],"labelOverlap":false}}}},{"data":{"values":[{"x":20,"y":0.25,"t":"V 12"}]},"mark":"text","encoding":{"x":{"field":"x","type":"quantitative","title":null,"axis":{"orient":"top","labels":false,"values":[0,20,40,60]}},"y":{"field":"y","type":"quantitative","title":null,"axis":{"orient":"right","labels":false,"values":[-4,-2,0]}},"text":{"field":"t"}}}]},
{"width":244,"height":111,"resolve":{"axis":{"x":"independent","y":"independent"}},"layer":[{"data":{"name":"d13"},"mark":"line","encoding":{"x":{"field":"x","type":"quantitative","title":null,"scale":{"domain":[0,60],"nice":false,"zero":false},"axis":{"values":[0,20,40,60]}},"y":{"field":"y","type":"quantitative","title":null,"scale":{"domain":[-4,0],"nice":false,"zero":false},"axis":{"values":[-4,-2,0],"labelOverlap":false}}}},{"data":{"values":[{"x":20,"y":0.25,"t":"V 13"}]},"mark":"text","encoding":{"x":{"field":"x","type":"quantitative","title":null,"axis":{"orient":"top","labels":false,"values":[0,20,40,60]}},"y":{"field":"y","type":"quantitative","title":null,"axis":{"orient":"right","labels":false,"values":[-4,-2,0]}},"text":{"field":"t"}}}]},
{"width":244,"height":111,"resolve":{"axis":{"x":"independent","y":"independent"}},"layer":[{"data":{"name":"d14"},"mark":"line","encoding":{"x":{"field":"x","type":"quantitative","title":null,"scale":{"domain":[0,60],"nice":false,"zero":false},"axis":{"values":[0,20,40,60]}},"y":{"field":"y","type":"quantitative","title":null,"scale":{"domain":[-4,0],"nice":false,"zero":false},"axis":{"values":[-4,-2,0],"labelOverlap":false}}}},{"data":{"values":[{"x":20,"y":0.25,"t":"V 14"}]},"mark":"text","encoding":{"x":{"field":"x","type":"quantitative","title":null,"axis":{"orient":"top","labels":false,"values":[0,20,40,60]}},"y":{"field":"y","type":"quantitative","title":null,"axis":{"orient":"right","labels":false,"values":[-4,-2,0]}},"text":{"field":"t"}}}]},
{"width":244,"height":111,"resolve":{"axis":{"x":"independent","y":"independent"}},"layer":[{"data":{"name":"d15"},"mark":"line","encoding":{"x":{"field":"x","type":"quantitative","title":null,"scale":{"domain":[0,60],"nice":false,"zero":false},"axis":{"values":[0,20,40,60]}},"y":{"field":"y","type":"quantitative","title":null,"scale":{"domain":[0,4],"nice":false,"zero":false},"axis":{"values":[0,2,4],"labelOverlap":false}}}},{"data":{"values":[{"x":20,"y":0.25,"t":"V 15"}]},"mark":"text","encoding":{"x":{"field":"x","type":"quantitative","title":null,"axis":{"orient":"top","labels":false,"values":[0,20,40,60]}},"y":{"field":"y","type":"quantitative","title":null,"axis":{"orient":"right","labels":false,"values":[0,2,4]}},"text":{"field":"t"}}}]},
{"width":244,"height":111,"resolve":{"axis":{"x":"independent","y":"independent"}},"layer":[{"data":{"name":"d16"},"mark":"line","encoding":{"x":{"field":"x","type":"quantitative","title":null,"scale":{"domain":[0,60],"nice":false,"zero":false},"axis":{"values":[0,20,40,60]}},"y":{"field":"y","type":"quantitative","title":null,"scale":{"domain":[-0.1,3.28],"nice":false,"zero":false},"axis":{"values":[0,1,2,3],"labelOverlap":false}}}},{"data":{"values":[{"x":20,"y":0.25,"t":"V 16"}]},"mark":"text","encoding":{"x":{"field":"x","type":"quantitative","title":null,"axis":{"orient":"top","labels":false,"values":[0,20,40,60]}},"y":{"field":"y","type":"quantitative","title":null,"axis":{"orient":"right","labels":false,"values":[0,1,2,3]}},"text":{"field":"t"}}}]},
{"width":244,"height":111,"resolve":{"axis":{"x":"independent","y":"independent"}},"layer":[{"data":{"name":"d17"},"mark":"line","encoding":{"x":{"field":"x","type":"quantitative","title":null,"scale":{"domain":[0,60],"nice":false,"zero":false},"axis":{"values":[0,20,40,60]}},"y":{"field":"y","type":"quantitative","title":null,"scale":{"domain":[0,4],"nice":false,"zero":false},"axis":{"values":[0,2,4],"labelOverlap":false}}}},{"data":{"values":[{"x":20,"y":0.25,"t":"V 17"}]},"mark":"text","encoding":{"x":{"field":"x","type":"quantitative","title":null,"axis":{"orient":"top","labels":false,"values":[0,20,40,60]}},"y":{"field":"y","type":"quantitative","title":null,"axis":{"orient":"right","labels":false,"values":[0,2,4]}},"text":{"field":"t"}}}]},
{"width":244,"height":111,"resolve":{"axis":{"x":"independent","y":"independent"}},"layer":[{"data":{"name":"d18"},"mark":"line","encoding":{"x":{"field":"x","type":"quantitative","title":null,"scale":{"domain":[0,60],"nice":false,"zero":false},"axis":{"values":[0,20,40,60]}},"y":{"field":"y","type":"quantitative","title":null,"scale":{"domain":[-0.04,4.03],"nice":false,"zero":false},"axis":{"values":[0,2,4],"labelOverlap":false}}}},{"data":{"values":[{"x":20,"y":0.25,"t":"V 18"}]},"mark":"text","encoding":{"x":{"field":"x","type":"quantitative","title":null,"axis":{"orient":"top","labels":false,"values":[0,20,40,60]}},"y":{"field":"y","type":"quantitative","title":null,"axis":{"orient":"right","labels":false,"values":[0,2,4]}},"text":{"field":"t"}}}]},
{"width":244,"height":111,"resolve":{"axis":{"x":"independent","y":"independent"}},"layer":[{"data":{"name":"d19"},"mark":"line","encoding":{"x":{"field":"x","type":"quantitative","title":null,"scale":{"domain":[0,60],"nice":false,"zero":false},"axis":{"values":[0,20,40,60]}},"y":{"field":"y","type":"quantitative","title":null,"scale":{"domain":[0,5],"nice":false,"zero":false},"axis":{"values":[0,5],"labelOverlap":false}}}},{"data":{"values":[{"x":20,"y":0.25,"t":"V 19"}]},"mark":"text","encoding":{"x":{"field":"x","type":"quantitative","title":null,"axis":{"orient":"top","labels":false,"values":[0,20,40,60]}},"y":{"field":"y","type":"quantitative","title":null,"axis":{"orient":"right","labels":false,"values":[0,5]}},"text":{"field":"t"}}}]},
{"width":244,"height":111,"resolve":{"axis":{"x":"independent","y":"independent"}},"layer":[{"data":{"name":"d20"},"mark":"line","encoding":{"x":{"field":"x","type":"quantitative","title":null,"scale":{"domain":[0,60],"nice":false,"zero":false},"axis":{"values":[0,20,40,60]}},"y":{"field":"y","type":"quantitative","title":null,"scale":{"domain":[-4,0],"nice":false,"zero":false},"axis":{"values":[-4,-2,0],"labelOverlap":false}}}},{"data":{"values":[{"x":20,"y":0.25,"t":"V 20"}]},"mark":"text","encoding":{"x":{"field":"x","type":"quantitative","title":null,"axis":{"orient":"top","labels":false,"values":[0,20,40,60]}},"y":{"field":"y","type":"quantitative","title":null,"axis":{"orient":"right","labels":false,"values":[-4,-2,0]}},"text":{"field":"t"}}}]},
{"width":244,"height":111,"resolve":{"axis":{"x":"independent","y":"independent"}},"layer":[{"data":{"name":"d21"},"mark":"line","encoding":{"x":{"field":"x","type":"quantitative","title":null,"scale":{"domain":[0,60],"nice":false,"zero":false},"axis":{"values":[0,20,40,60]}},"y":{"field":"y","type":"quantitative","title":null,"scale":{"domain":[0,5],"nice":false,"zero":false},"axis":{"values":[0,5],"labelOverlap":false}}}},{"data":{"values":[{"x":20,"y":0.25,"t":"V 21"}]},"mark":"text","encoding":{"x":{"field":"x","type":"quantitative","title":null,"axis":{"orient":"top","labels":false,"values":[0,20,40,60]}},"y":{"field":"y","type":"quantitative","title":null,"axis":{"orient":"right","labels":false,"values":[0,5]}},"text":{"field":"t"}}}]},
{"width":244,"height":111,"resolve":{"axis":{"x":"independent","y":"independent"}},"layer":[{"data":{"name":"d22"},"mark":"line","encoding":{"x":{"field":"x","type":"quantitative","title":null,"scale":{"domain":[0,60],"nice":false,"zero":false},"axis":{"values":[0,20,40,60]}},"y":{"field":"y","type":"quantitative","title":null,"scale":{"domain":[-4,0],"nice":false,"zero":false},"axis":{"values":[-4,-2,0],"labelOverlap":false}}}},{"data":{"values":[{"x":20,"y":0.25,"t":"V 22"}]},"mark":"text","encoding":{"x":{"field":"x","type":"quantitative","title":null,"axis":{"orient":"top","labels":false,"values":[0,20,40,60]}},"y":{"field":"y","type":"quantitative","title":null,"axis":{"orient":"right","labels":false,"values":[-4,-2,0]}},"text":{"field":"t"}}}]},
{"width":244,"height":111,"resolve":{"axis":{"x":"independent","y":"independent"}},"layer":[{"data":{"name":"d23"},"mark":"line","encoding":{"x":{"field":"x","type":"quantitative","title":null,"scale":{"domain":[0,60],"nice":false,"zero":false},"axis":{"values":[0,20,40,60]}},"y":{"field":"y","type":"quantitative","title":null,"scale":{"domain":[-0.57,0.665],"nice":false,"zero":false},"axis":{"values":[-0.5,0,0.5],"labelOverlap":false}}}},{"data":{"values":[{"x":20,"y":0.25,"t":"V 23"}]},"mark":"text","encoding":{"x":{"field":"x","type":"quantitative","title":null,"axis":{"orient":"top","labels":false,"values":[0,20,40,60]}},"y":{"field":"y","type":"quantitative","title":null,"axis":{"orient":"right","labels":false,"values":[-0.5,0,0.5]}},"text":{"field":"t"}}}]},
{"width":244,"height":111,"resolve":{"axis":{"x":"independent","y":"independent"}},"layer":[{"data":{"name":"d24"},"mark":"line","encoding":{"x":{"field":"x","type":"quantitative","title":null,"scale":{"domain":[0,60],"nice":false,"zero":false},"axis":{"values":[0,20,40,60]}},"y":{"field":"y","type":"quantitative","title":null,"scale":{"domain":[-2,0.92],"nice":false,"zero":false},"axis":{"values":[-2,-1,0],"labelOverlap":false}}}},{"data":{"values":[{"x":20,"y":0.25,"t":"V 24"}]},"mark":"text","encoding":{"x":{"field":"x","type":"quantitative","title":null,"axis":{"orient":"top","labels":false,"values":[0,20,40,60]}},"y":{"field":"y","type":"quantitative","title":null,"axis":{"orient":"right","labels":false,"values":[-2,-1,0]}},"text":{"field":"t"}}}]}
]
}
